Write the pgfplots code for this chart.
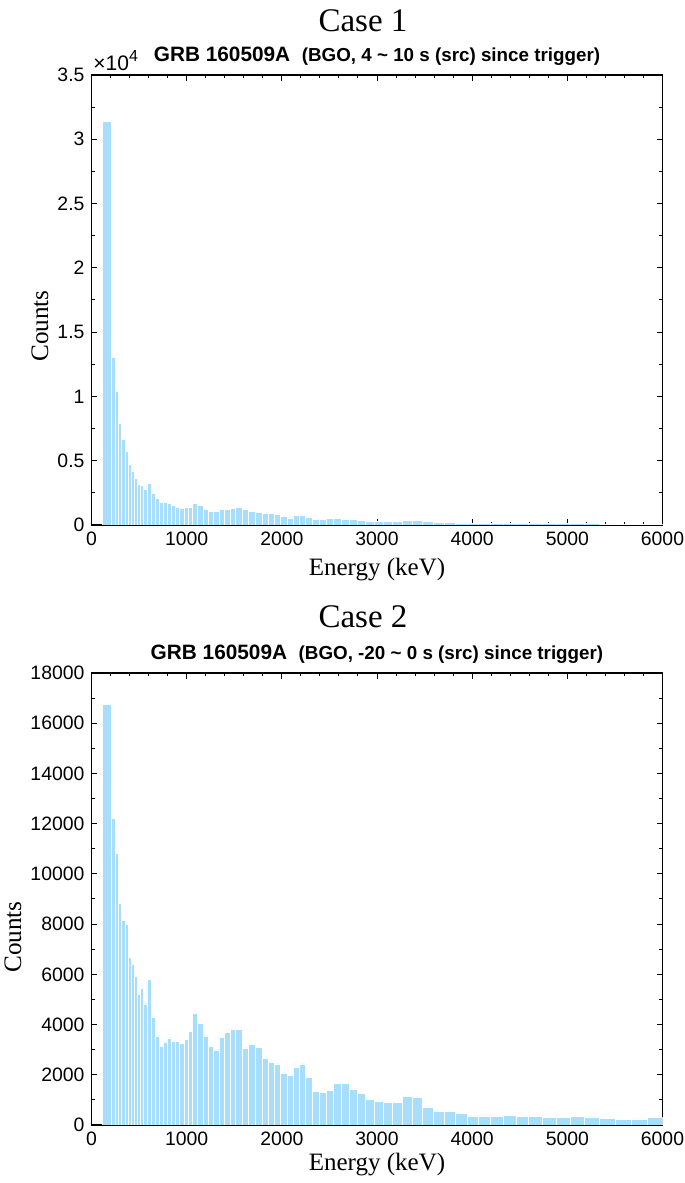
\documentclass[border=0pt]{standalone}
\usepackage{pgfplots}
\pgfplotsset{compat=1.18}
\usepackage{pgfplotstable}
\usepackage{fontspec}
\setmainfont{Liberation Serif}
\newfontfamily\arial{Liberation Sans}
\definecolor{barblue}{RGB}{166,222,252}

\pgfplotstableread{
x y
117 31370
212 13015
250 10370
285 7933
317 6689
352 5704
387 4693
418 4200
453 3656
485 3163
516 3085
548 2800
583 3241
628 2489
670 2074
712 1789
754 1763
800 1711
842 1530
884 1374
926 1296
972 1400
1017 1348
1063 1659
1115 1504
1171 1244
1227 1089
1283 1089
1339 1193
1395 1219
1455 1270
1511 1374
1581 1193
1651 1037
1724 959
1791 933
1857 881
1924 804
1987 674
2054 544
2120 752
2187 778
2250 622
2320 441
2390 441
2467 492
2547 492
2624 467
2708 467
2792 337
2880 311
2971 259
3062 259
3167 250
3265 380
3374 340
3482 280
3594 200
3710 190
3825 160
3951 140
4070 130
4193 120
4326 130
4462 110
4596 100
4739 95
4883 90
5030 100
5180 90
5338 80
5506 70
5674 70
5842 80
6000 0
}\caseone

\pgfplotstableread{
x y
117 16737
212 12194
250 10800
285 8833
317 8143
352 7970
387 6682
418 6403
453 5911
485 5220
516 5433
548 4822
583 5805
628 4291
670 3547
712 3122
754 3308
800 3467
842 3334
884 3321
926 3255
972 3414
1017 3719
1063 4463
1115 4052
1171 3547
1227 3148
1283 2989
1339 3480
1395 3679
1455 3826
1511 3812
1581 3068
1651 3228
1724 3082
1791 2670
1857 2511
1924 2431
1987 2072
2054 1966
2120 2311
2187 2431
2250 1886
2320 1328
2390 1302
2467 1368
2547 1660
2624 1660
2708 1435
2792 1249
2880 1023
2971 956
3062 917
3167 905
3265 1128
3374 1088
3482 717
3594 558
3710 546
3825 450
3951 359
4070 359
4193 347
4326 398
4462 347
4596 331
4739 307
4883 291
5030 347
5180 319
5338 267
5506 211
5674 239
5842 307
6000 0
}\casetwo

\pgfplotsset{mystyle/.style={
  scale only axis, width=285.5pt,
  xmin=0, xmax=6000, ymin=0,
  xtick={0,1000,...,6000}, minor x tick num=4,
  tick align=inside, xtick pos=both, ytick pos=both,
  major tick length=3pt, minor tick length=1.7pt,
  axis line style={line width=0.7pt, black},
  tick style={black, line width=0.5pt},
  ticklabel style={font=\arial\fontsize{9.7}{11}\selectfont},
  /pgf/number format/assume math mode=true,
  /pgf/number format/1000 sep={},
  scaled ticks=false,
}}

\begin{document}
\begin{tikzpicture}
\path[use as bounding box] (0,0) rectangle (342.5pt,591.5pt);

\begin{axis}[mystyle, at={(45.75pt,329pt)}, anchor=south west, height=225pt,
  ymax=35000, ytick={0,5000,...,35000}, yticklabels={0,0.5,1,1.5,2,2.5,3,3.5},
  minor y tick num=1]
\addplot[ybar interval, fill=barblue, draw=white, line width=0.4pt] table {\caseone};
\end{axis}

\begin{axis}[mystyle, at={(45.75pt,29pt)}, anchor=south west, height=226pt,
  ymax=18000, ytick={0,2000,...,18000}, minor y tick num=1]
\addplot[ybar interval, fill=barblue, draw=white, line width=0.4pt] table {\casetwo};
\end{axis}

\begin{scope}[x=0.5pt, y=0.5pt]
\node[anchor=base, font=\fontsize{16.5}{18}\selectfont] at (363,1151) {Case 1};
\node[anchor=base, font=\arial\bfseries] at (377,1121) {\fontsize{10.4}{12}\selectfont GRB 160509A\ \ \fontsize{9.4}{11}\selectfont (BGO, 4 \textasciitilde{} 10 s (src) since trigger)};
\node[anchor=base west, font=\arial\fontsize{10.5}{12}\selectfont, inner sep=0pt] at (93,1112) {×10\raisebox{0.85ex}{\fontsize{8}{9}\selectfont 4}};
\node[rotate=90, font=\fontsize{12.6}{14}\selectfont] at (40,857) {Counts};
\node[font=\fontsize{12.5}{14}\selectfont] at (377,613) {Energy (keV)};

\node[anchor=base, font=\fontsize{16.5}{18}\selectfont] at (363,555) {Case 2};
\node[anchor=base, font=\arial\bfseries] at (377,523) {\fontsize{10.4}{12}\selectfont GRB 160509A\ \ \fontsize{9.4}{11}\selectfont (BGO, -20 \textasciitilde{} 0 s (src) since trigger)};
\node[rotate=90, font=\fontsize{12.6}{14}\selectfont] at (13,246) {Counts};
\node[font=\fontsize{12.5}{14}\selectfont] at (377,18) {Energy (keV)};
\end{scope}
\end{tikzpicture}
\end{document}
